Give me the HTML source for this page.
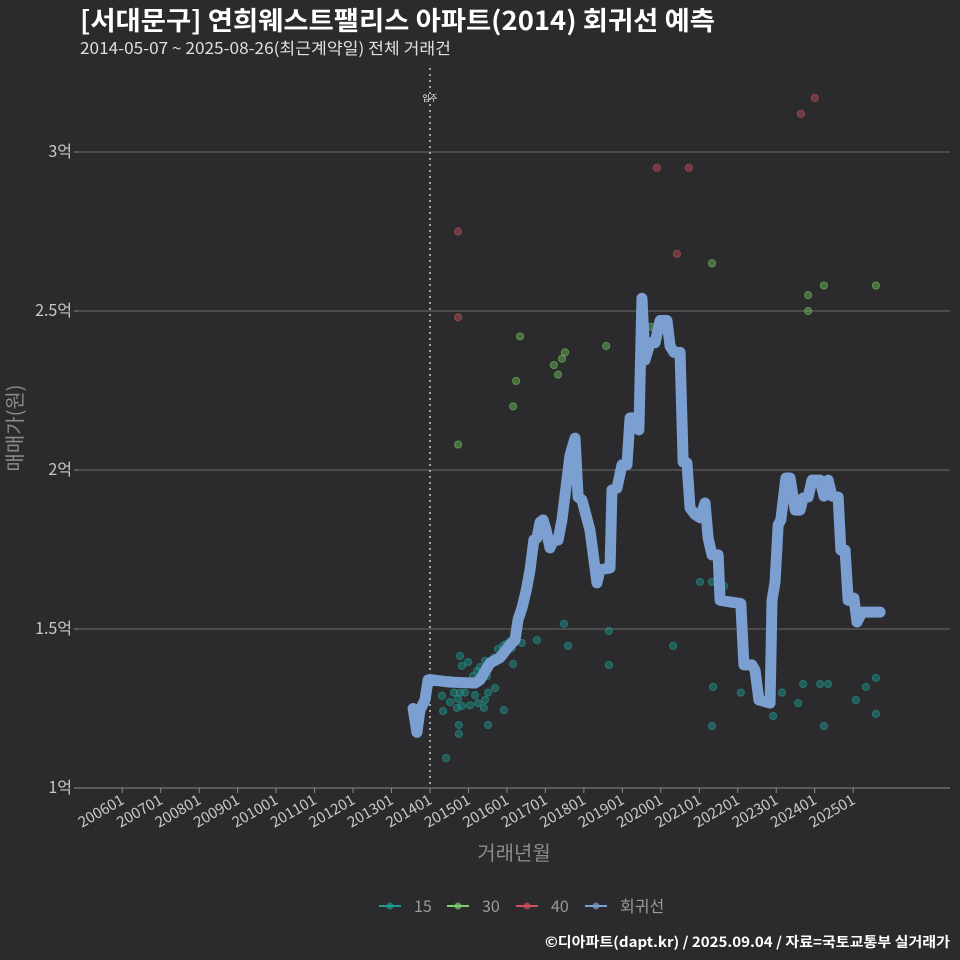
<!DOCTYPE html>
<html><head><meta charset="utf-8"><style>
body{margin:0;background:#2b2b2d;}
svg{display:block;font-family:"Noto Sans CJK KR","Liberation Sans",sans-serif;}
</style></head><body>
<svg id="c" width="960" height="960" viewBox="0 0 960 960">
<rect width="960" height="960" fill="#2b2b2d"/>
<text x="80" y="30" fill="#ffffff" font-size="26" font-weight="bold" textLength="635" lengthAdjust="spacingAndGlyphs">[서대문구] 연희웨스트팰리스 아파트(2014) 회귀선 예측</text>
<text x="80" y="54" fill="#e0e0e0" font-size="16" textLength="371" lengthAdjust="spacingAndGlyphs">2014-05-07 ~ 2025-08-26(최근계약일) 전체 거래건</text>
<g id="grid"></g>
<g id="xaxis"></g>
<g id="yaxis"></g>
<g id="pts"></g>
<g id="line"></g>
<text x="22" y="428" fill="#8a8a8a" font-size="20" transform="rotate(-90 22 428)" text-anchor="middle">매매가(원)</text>
<text x="514" y="860" fill="#8a8a8a" font-size="20" text-anchor="middle">거래년월</text>
<g>
<g><line x1="379" y1="906" x2="401" y2="906" stroke="#1f9a90" stroke-width="2"/><circle cx="390" cy="906" r="3.5" fill="#1f9a90" opacity="0.7"/><text x="414" y="912" fill="#9a9a9a" font-size="16">15</text></g>
<g><line x1="447" y1="906" x2="469" y2="906" stroke="#7fce6a" stroke-width="2"/><circle cx="458" cy="906" r="3.5" fill="#7fce6a" opacity="0.7"/><text x="482" y="912" fill="#9a9a9a" font-size="16">30</text></g>
<g><line x1="516" y1="906" x2="538" y2="906" stroke="#d0505c" stroke-width="2"/><circle cx="527" cy="906" r="3.5" fill="#d0505c" opacity="0.7"/><text x="551" y="912" fill="#9a9a9a" font-size="16">40</text></g>
<g><line x1="585" y1="906" x2="607" y2="906" stroke="#7b9fd0" stroke-width="2"/><circle cx="596" cy="906" r="3.5" fill="#7b9fd0" opacity="0.7"/><text x="620" y="912" fill="#9a9a9a" font-size="16">회귀선</text></g>
</g>
<text x="950" y="947" fill="#ffffff" font-size="14" font-weight="bold" text-anchor="end" textLength="405" lengthAdjust="spacingAndGlyphs">©디아파트(dapt.kr) / 2025.09.04 / 자료=국토교통부 실거래가</text>
</svg>
<script>
const yTicks=[1,1.5,2,2.5,3];
const yTickLabels=["1억","1.5억","2억","2.5억","3억"];
const xTicks=[2006,2007,2008,2009,2010,2011,2012,2013,2014,2015,2016,2017,2018,2019,2020,2021,2022,2023,2024,2025];
const xTickLabels=["200601","200701","200801","200901","201001","201101","201201","201301","201401","201501","201601","201701","201801","201901","202001","202101","202201","202301","202401","202501"];
const moveInYear=2014.0;
const lineDates=[2013.56,2013.66,2013.74,2013.87,2013.95,2014.05,2014.52,2015.17,2015.30,2015.48,2015.56,2015.82,2016.08,2016.21,2016.29,2016.39,2016.50,2016.60,2016.70,2016.78,2016.86,2016.94,2017.02,2017.12,2017.20,2017.33,2017.43,2017.56,2017.64,2017.77,2017.85,2017.95,2018.16,2018.34,2018.42,2018.68,2018.73,2018.86,2018.99,2019.12,2019.20,2019.38,2019.43,2019.51,2019.59,2019.72,2019.85,2019.98,2020.16,2020.24,2020.34,2020.50,2020.58,2020.68,2020.76,2020.89,2021.02,2021.15,2021.23,2021.33,2021.49,2021.54,2021.80,2022.08,2022.16,2022.37,2022.45,2022.55,2022.84,2022.89,2022.97,2023.05,2023.12,2023.25,2023.36,2023.49,2023.62,2023.70,2023.83,2023.93,2024.14,2024.24,2024.35,2024.45,2024.61,2024.68,2024.79,2024.87,2025.02,2025.10,2025.23,2025.70];
const linePrices=[1.25,1.175,1.245,1.277,1.34,1.34,1.333,1.33,1.34,1.377,1.393,1.41,1.45,1.465,1.53,1.566,1.62,1.686,1.78,1.786,1.836,1.843,1.81,1.755,1.777,1.78,1.843,1.97,2.047,2.10,1.915,1.906,1.81,1.645,1.686,1.692,1.937,1.943,2.016,2.016,2.164,2.164,2.126,2.54,2.346,2.40,2.40,2.47,2.47,2.39,2.37,2.37,2.025,2.022,1.88,1.86,1.85,1.896,1.786,1.733,1.733,1.59,1.585,1.58,1.387,1.387,1.37,1.277,1.267,1.59,1.648,1.827,1.843,1.975,1.975,1.874,1.874,1.912,1.915,1.968,1.968,1.918,1.968,1.918,1.915,1.748,1.748,1.59,1.597,1.522,1.553,1.553];
const redDates=[2014.73,2014.73,2019.90,2020.73,2020.42,2023.64,2024.0];
const redPrices=[2.75,2.48,2.95,2.95,2.68,3.12,3.17];
const greenDates=[2014.73,2016.16,2016.24,2016.34,2017.22,2017.33,2017.43,2017.51,2018.58,2019.75,2021.33,2023.83,2023.83,2024.24,2025.59];
const greenPrices=[2.08,2.20,2.28,2.42,2.33,2.30,2.35,2.37,2.39,2.45,2.65,2.55,2.50,2.58,2.58];
const tealDates=[2014.42,2014.34,2014.52,2014.78,2014.83,2014.99,2015.12,2015.22,2015.30,2015.43,2015.48,2015.56,2015.66,2015.77,2015.90,2015.98,2016.08,2016.16,2016.13,2016.39,2014.62,2014.78,2014.73,2014.83,2014.91,2015.04,2015.17,2015.25,2015.40,2015.51,2015.43,2014.52,2014.70,2014.75,2014.75,2015.51,2015.92,2015.69,2014.31,2016.78,2017.48,2017.59,2018.65,2018.65,2020.32,2021.02,2021.33,2021.64,2021.36,2021.33,2022.08,2022.92,2023.15,2023.57,2023.70,2024.14,2024.35,2024.24,2025.07,2025.33,2025.59,2025.59];
const tealPrices=[1.094,1.242,1.34,1.415,1.384,1.396,1.352,1.368,1.38,1.40,1.352,1.39,1.41,1.437,1.447,1.453,1.462,1.39,1.44,1.456,1.30,1.30,1.28,1.258,1.30,1.26,1.292,1.267,1.252,1.30,1.277,1.27,1.252,1.198,1.17,1.198,1.245,1.314,1.29,1.465,1.516,1.447,1.494,1.387,1.447,1.648,1.648,1.635,1.318,1.195,1.30,1.226,1.30,1.267,1.327,1.327,1.327,1.195,1.277,1.318,1.346,1.233];

const NS="http://www.w3.org/2000/svg";
const X=d=>430+(d-2014)*38.47;
const Y=p=>788-(p-1)*318;
function mk(tag,attrs,parent){const e=document.createElementNS(NS,tag);for(const k in attrs)e.setAttribute(k,attrs[k]);parent.appendChild(e);return e;}
const grid=document.getElementById('grid'),xa=document.getElementById('xaxis'),ya=document.getElementById('yaxis'),pts=document.getElementById('pts'),lg=document.getElementById('line');
yTicks.forEach((t,i)=>{
  const g=mk('line',{x1:78,x2:950,y1:Y(t),y2:Y(t),stroke:i==0?'#8a8a8a':'#6a6a6a','stroke-width':1},grid);
  
  
  const tk=mk('line',{x1:74,x2:78,y1:Y(t),y2:Y(t),stroke:'#8a8a8a'},ya);
  
  
  const tx=mk('text',{x:72,y:Y(t)+5,fill:'#c8c8c8','font-size':16,'text-anchor':'end'},ya);
  tx.textContent=yTickLabels[i];
  
  
});
xTicks.forEach((t,i)=>{
  const x=X(t);
  const tk=mk('line',{x1:x,x2:x,y1:788,y2:793,stroke:'#8a8a8a'},xa);
  
  
  const tx=mk('text',{x:x+3,y:803,fill:'#c8c8c8','font-size':15,'text-anchor':'end',transform:`rotate(-30 ${x+3} 803)`},xa);
  tx.textContent=xTickLabels[i];
  
  
});
const vl=mk('line',{x1:X(moveInYear),x2:X(moveInYear),y1:68,y2:788,stroke:'#cccccc','stroke-width':1.5,'stroke-dasharray':'2,4'},grid);


const vt=mk('text',{x:X(moveInYear),y:101,fill:'#ffffff','font-size':8,'text-anchor':'middle'},grid);
vt.textContent='입주';


function drawPts(ds,ps,col,name){ds.forEach((d,i)=>{
  const c=mk('circle',{cx:X(d),cy:Y(ps[i]),r:3.6,fill:col,'fill-opacity':0.45,stroke:col,'stroke-opacity':0.6},pts);
  
  
});}
drawPts(tealDates,tealPrices,'#1f9a90','point-15');
drawPts(greenDates,greenPrices,'#6fbf5b','point-30');
drawPts(redDates,redPrices,'#c0505a','point-40');
const path=mk('polyline',{points:lineDates.map((d,i)=>X(d)+','+Y(linePrices[i])).join(' '),fill:'none',stroke:'#7b9fd0','stroke-width':11,'stroke-linejoin':'round','stroke-linecap':'round'},lg);


</script>
</body></html>
